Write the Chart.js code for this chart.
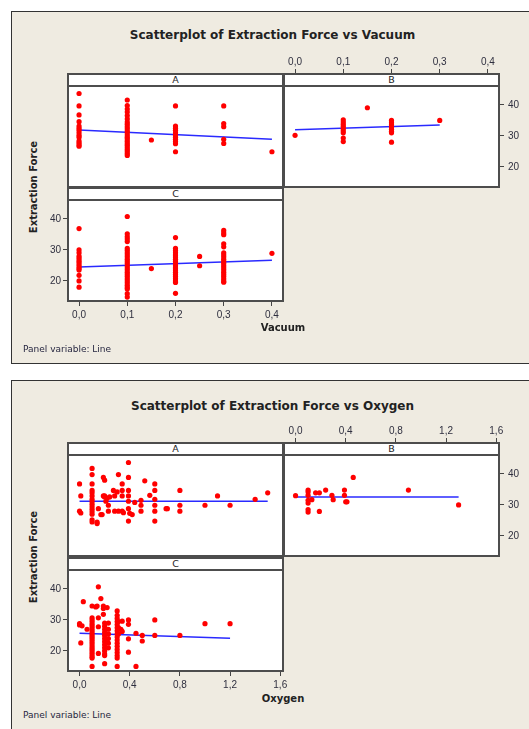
<!DOCTYPE html>
<html>
<head>
<meta charset="utf-8">
<script src="https://cdn.jsdelivr.net/npm/chart.js@4.4.0/dist/chart.umd.min.js"></script>
<style>
  html, body { margin: 0; padding: 0; background: #fff; }
  body { position: relative; width: 529px; height: 729px; overflow: hidden;
         font-family: 'DejaVu Sans', sans-serif; color: #222; }
  .fig { position: absolute; left: 11px; width: 540px; background: #efebe1;
         border: 1.5px solid #333; box-sizing: border-box; z-index: 0; }
  .plotbg { position: absolute; background: #fff; z-index: 1; }
  canvas { position: absolute; z-index: 2; }
  .strip { position: absolute; background: #fff; z-index: 3; box-sizing: border-box;
           border-bottom: 2px solid #4d4d4d; text-align: center; font-size: 9.5px; line-height: 13px; }
  .frame { position: absolute; z-index: 4; box-sizing: border-box; border: 2px solid #4d4d4d; }
  .txt { position: absolute; z-index: 3; white-space: nowrap; }
  .title { font-weight: bold; font-size: 12px; text-align: center; width: 545px; left: 0; }
  .ylab { font-weight: bold; font-size: 10px; transform: translate(-50%, -50%) rotate(-90deg); }
  .xlab { font-weight: bold; font-size: 10px; transform: translate(-50%, -50%); }
  .note { font-size: 9px; color: #262640; }
</style>
</head>
<body>
<div class="fig" style="top:11px; height:353px;"></div>
<div class="fig" style="top:380px; height:360px;"></div>

<div class="txt title" style="top:28px;">Scatterplot of Extraction Force vs Vacuum</div>
<div class="txt ylab" style="left:33px; top:187px;">Extraction Force</div>
<div class="txt xlab" style="left:283px; top:327px;">Vacuum</div>
<div class="txt note" style="left:23px; top:344px;">Panel variable: Line</div>

<div class="txt title" style="top:399px;">Scatterplot of Extraction Force vs Oxygen</div>
<div class="txt ylab" style="left:33px; top:557px;">Extraction Force</div>
<div class="txt xlab" style="left:283px; top:698px;">Oxygen</div>
<div class="txt note" style="left:23px; top:710px;">Panel variable: Line</div>

<script>
// ---- axis ticks ----
const vacTicks = [0, 0.1, 0.2, 0.3, 0.4];
const vacTickLabels = ['0,0', '0,1', '0,2', '0,3', '0,4'];
const oxyTicks = [0, 0.4, 0.8, 1.2, 1.6];
const oxyTickLabels = ['0,0', '0,4', '0,8', '1,2', '1,6'];
const forceTicks = [20, 30, 40];
const forceTickLabels = ['20', '30', '40'];

// ---- Extraction Force vs Vacuum, grouped by vacuum level ----
const vacLevels = [0, 0.1, 0.15, 0.2, 0.25, 0.3, 0.4];
const vacForceA = [
  [43.7, 39.7, 36.8, 34.6, 33.2, 32.5, 31.8, 31, 30.2, 29.6, 28.4, 27.8, 27.2, 26.7],
  [41.6, 39.8, 38.7, 37.7, 36.6, 35.5, 34.5, 33.8, 33, 32.3, 31.6, 31, 30.3, 29.6, 29, 28.3, 27.6, 27, 26.3, 25.6, 25, 24.3, 23.7],
  [28.7],
  [39.7, 33.2, 32.5, 31.8, 31, 30.3, 29.6, 28.9, 28.2, 27.5, 24.9],
  [],
  [39.7, 34, 33, 28.9, 27.6],
  [24.9]
];
const vacForceB = [
  [30.2],
  [35.2, 34.5, 33.8, 33.1, 32.4, 31.7, 31, 29.3, 28.2],
  [39.1],
  [35, 34.3, 33.6, 32.9, 32.2, 31.5, 31, 28],
  [],
  [35],
  []
];
const vacForceC = [
  [36.9, 30, 29.1, 28, 27.3, 26.6, 26, 25.3, 24.6, 24, 23.5, 21.8, 20, 18],
  [40.8, 35.2, 34.3, 33.5, 32.7, 30.5, 29.8, 29.1, 28.4, 27.7, 27, 26.3, 25.6, 24.9, 24.2, 23.5, 22.8, 22.1, 21.4, 20.7, 20, 19.3, 18.6, 17.9, 17.4, 15.9, 14.8],
  [24],
  [34, 30.5, 29.8, 29.1, 28.4, 27.7, 27, 26.3, 25.6, 24.9, 24.2, 23.5, 22.8, 22.1, 21.4, 20.7, 20, 19.5, 16],
  [27.9, 24.9],
  [36.3, 35.5, 34.9, 32, 31, 29.1, 28.4, 27.7, 27, 26.3, 25.6, 24.9, 24.2, 23.5, 22.8, 22.1, 21.4, 20.7, 20, 19.6],
  [28.9]
];
// fitted lines (end points)
const vacFitAx = [0, 0.4],  vacFitAy = [31.9, 28.9];
const vacFitBx = [0, 0.3],  vacFitBy = [32, 33.5];
const vacFitCx = [0, 0.4],  vacFitCy = [24.5, 26.7];

// ---- Extraction Force vs Oxygen ----
const oxyAx = [0, 0.01, 0, 0.01,
  0.1, 0.1, 0.1, 0.1, 0.1, 0.1, 0.1, 0.1, 0.1, 0.1, 0.1, 0.1, 0.1, 0.1, 0.1,
  0.14, 0.14, 0.15, 0.17, 0.18, 0.19, 0.2, 0.2, 0.22, 0.23, 0.23, 0.19, 0.2, 0.21, 0.24,
  0.27, 0.28, 0.3, 0.31, 0.34, 0.34, 0.34, 0.31, 0.34, 0.35, 0.28,
  0.39, 0.39, 0.39, 0.39, 0.39, 0.39, 0.39, 0.4, 0.42,
  0.44, 0.49, 0.49, 0.49, 0.52, 0.56,
  0.6, 0.6, 0.6, 0.6, 0.6, 0.6,
  0.69, 0.7, 0.8, 0.8, 0.8, 1.0, 1.1, 1.2, 1.4, 1.5];
const oxyAy = [36.8, 32.9, 28, 27.4,
  41.8, 39.8, 36.8, 34.7, 33.9, 32.9, 31.8, 31, 30.2, 29.4, 28.6, 27.8, 27, 25.2, 24.5,
  24.5, 24, 28.8, 26.9, 26.9, 32.9, 32.6, 32.9, 32.2, 29.9, 28, 38.9, 38, 31.2, 32.6,
  34.7, 32.9, 34.2, 39.8, 36.8, 34.7, 32.9, 28, 28, 27.5, 28,
  43.7, 38.9, 34.7, 32.9, 31.2, 28.8, 24.8, 27.3, 26.9,
  30.8, 31.5, 29.9, 28, 37.8, 33.1,
  36.8, 34.7, 31.8, 29.9, 28, 24.8,
  28.8, 28.8, 34.7, 29.9, 28, 29.9, 32.9, 29.9, 31.8, 33.9];
const oxyBx = [0, 0.1, 0.1, 0.1, 0.1, 0.1, 0.1, 0.1, 0.13, 0.16, 0.19, 0.19, 0.24,
  0.29, 0.3, 0.39, 0.39, 0.4, 0.41, 0.46, 0.9, 1.3];
const oxyBy = [33, 34.8, 34.2, 33.1, 31.5, 30.6, 28.5, 27.7, 31.7, 33.9, 33.9, 27.9, 34.8,
  33.1, 31.7, 34.8, 33.1, 31, 31, 38.9, 34.8, 30];
const oxyCx = [0, 0, 0.02, 0.01, 0.03, 0.06,
  0.1, 0.1, 0.1, 0.1, 0.1, 0.1, 0.1, 0.1, 0.1, 0.1, 0.1, 0.1, 0.1, 0.1, 0.1, 0.1, 0.1, 0.1, 0.1, 0.1, 0.1, 0.1,
  0.13, 0.14, 0.15, 0.17, 0.19, 0.15, 0.15, 0.15, 0.19, 0.19,
  0.2, 0.2, 0.2, 0.2, 0.2, 0.2, 0.2, 0.2, 0.2, 0.2, 0.2, 0.2, 0.2,
  0.22, 0.23, 0.23, 0.23, 0.23, 0.23, 0.23,
  0.3, 0.3, 0.3, 0.3, 0.3, 0.3, 0.3, 0.3, 0.3, 0.3, 0.3, 0.3, 0.3, 0.3, 0.3, 0.3, 0.3,
  0.31, 0.31, 0.31, 0.34, 0.34, 0.33,
  0.39, 0.39, 0.39, 0.39, 0.45, 0.45, 0.5, 0.5, 0.6, 0.6, 0.8, 1.0, 1.2];
const oxyCy = [28.8, 28.4, 28.1, 22.6, 35.9, 27,
  34.5, 30.7, 30, 29.3, 28.6, 27.9, 27.2, 26.5, 25.8, 25.1, 24.4, 23.7, 23, 22.3, 21.6, 20.9, 20.2, 19.5, 18.8, 18.1, 17.7, 15,
  34.2, 34.5, 40.7, 36.9, 31.8, 30.7, 27.8, 19.2, 34.5, 33.7,
  29, 28, 27, 26, 25, 24, 23, 22, 21, 20, 19, 18.5, 15.9,
  34, 29, 27, 25.5, 24, 22.5, 21,
  32.9, 31.5, 30.5, 29.5, 28.5, 27.5, 26.5, 25.5, 24.5, 23.5, 22.5, 21.5, 20.5, 19.5, 18.5, 17.7, 15,
  29.5, 27.5, 25.5, 29.6, 26.3, 27,
  30, 28.6, 23.9, 19.6, 25.7, 15, 25, 23.2, 30, 25, 25, 28.8, 28.8];
const oxyFitAx = [0, 1.5],  oxyFitAy = [31.2, 31.2];
const oxyFitBx = [0, 1.3],  oxyFitBy = [32.6, 32.6];
const oxyFitCx = [0, 1.2],  oxyFitCy = [25.7, 24.1];

// ---- helpers ----
function pairs(xs, ys) {
  return xs.map((x, i) => ({ x: x, y: ys[i] }));
}
function levelPoints(levels, cols) {
  const pts = [];
  cols.forEach((col, i) => col.forEach((v) => pts.push({ x: levels[i], y: v })));
  return pts;
}

const AXIS = { top: 30, right: 30, left: 24, bottom: 20 };
const STRIP = 14;

function addPanel(p) {
  const mL = p.yPos === 'left' ? AXIS.left : 0;
  const mR = p.yPos === 'right' ? AXIS.right : (p.padRight || 0);
  const mT = p.xPos === 'top' ? AXIS.top : 0;
  const mB = p.xPos === 'bottom' ? AXIS.bottom : 0;

  const bg = document.createElement('div');
  bg.className = 'plotbg';
  Object.assign(bg.style, { left: p.x + 'px', top: p.y + 'px', width: p.w + 'px', height: p.h + 'px' });
  document.body.appendChild(bg);

  const cv = document.createElement('canvas');
  cv.width = p.w + mL + mR;
  cv.height = p.h + mT + mB;
  cv.style.left = (p.x - mL) + 'px';
  cv.style.top = (p.y - mT) + 'px';
  document.body.appendChild(cv);

  const strip = document.createElement('div');
  strip.className = 'strip';
  strip.textContent = p.label;
  Object.assign(strip.style, { left: p.x + 'px', top: (p.y - STRIP) + 'px', width: p.w + 'px', height: STRIP + 'px' });
  document.body.appendChild(strip);

  const frame = document.createElement('div');
  frame.className = 'frame';
  Object.assign(frame.style, { left: p.x + 'px', top: (p.y - STRIP) + 'px', width: p.w + 'px', height: (p.h + STRIP) + 'px' });
  document.body.appendChild(frame);

  new Chart(cv, {
    type: 'scatter',
    data: {
      datasets: [
        {
          data: p.points,
          backgroundColor: '#ff0000',
          pointRadius: 2.6,
          pointBorderWidth: 0,
        },
        {
          data: pairs(p.fitX, p.fitY),
          showLine: true,
          borderColor: '#2a2aff',
          borderWidth: 1.5,
          pointRadius: 0,
        },
      ],
    },
    options: {
      responsive: false,
      animation: false,
      layout: {
        autoPadding: false,
        padding: { left: 0, right: p.yPos === 'right' ? 0 : mR, top: 0, bottom: 0 },
      },
      plugins: { legend: { display: false }, tooltip: { enabled: false } },
      scales: {
        x: {
          type: 'linear',
          min: p.xMin,
          max: p.xMax,
          display: !!p.xPos,
          position: p.xPos || 'bottom',
          afterBuildTicks: (s) => { s.ticks = p.xTicks.map((v) => ({ value: v })); },
          afterFit: (s) => {
            s.paddingLeft = 0;
            s.paddingRight = 0;
            if (p.xPos) s.height = p.xPos === 'top' ? AXIS.top : AXIS.bottom;
          },
          grid: { drawOnChartArea: false, tickLength: p.xPos === 'top' ? STRIP + 4 : 4, tickColor: '#444', tickWidth: 1 },
          border: { display: false },
          ticks: {
            padding: p.xPos === 'top' ? 1 : 3,
            color: '#2f2f3f',
            font: { size: 10 },
            maxRotation: 0,
            autoSkip: false,
            callback: (v, i) => p.xLabels[i],
          },
        },
        y: {
          type: 'linear',
          min: 13.2,
          max: 45.8,
          display: !!p.yPos,
          position: p.yPos || 'left',
          afterBuildTicks: (s) => { s.ticks = forceTicks.map((v) => ({ value: v })); },
          afterFit: (s) => {
            s.paddingTop = 0;
            s.paddingBottom = 0;
            if (p.yPos) s.width = p.yPos === 'right' ? AXIS.right : AXIS.left;
          },
          grid: { drawOnChartArea: false, tickLength: 4, tickColor: '#444', tickWidth: 1 },
          border: { display: false },
          ticks: {
            padding: p.yPos === 'right' ? 4 : 2,
            color: '#2f2f3f',
            font: { size: 10 },
            autoSkip: false,
            callback: (v, i) => forceTickLabels[i],
          },
        },
      },
    },
  });
}

const W = 217, H = 101;
const vacScale = { xMin: -0.025, xMax: 0.425, xTicks: vacTicks, xLabels: vacTickLabels };
const oxyScale = { xMin: -0.1, xMax: 1.63, xTicks: oxyTicks, xLabels: oxyTickLabels };

// Vacuum figure
addPanel(Object.assign({ x: 67, y: 87, w: W, h: H, label: 'A', xPos: null, yPos: null,
  points: levelPoints(vacLevels, vacForceA), fitX: vacFitAx, fitY: vacFitAy }, vacScale));
addPanel(Object.assign({ x: 283, y: 87, w: W, h: H, label: 'B', xPos: 'top', yPos: 'right',
  points: levelPoints(vacLevels, vacForceB), fitX: vacFitBx, fitY: vacFitBy }, vacScale));
addPanel(Object.assign({ x: 67, y: 201, w: W, h: H, label: 'C', xPos: 'bottom', yPos: 'left', padRight: 10,
  points: levelPoints(vacLevels, vacForceC), fitX: vacFitCx, fitY: vacFitCy }, vacScale));

// Oxygen figure
addPanel(Object.assign({ x: 67, y: 456, w: W, h: H, label: 'A', xPos: null, yPos: null,
  points: pairs(oxyAx, oxyAy), fitX: oxyFitAx, fitY: oxyFitAy }, oxyScale));
addPanel(Object.assign({ x: 283, y: 456, w: W, h: H, label: 'B', xPos: 'top', yPos: 'right',
  points: pairs(oxyBx, oxyBy), fitX: oxyFitBx, fitY: oxyFitBy }, oxyScale));
addPanel(Object.assign({ x: 67, y: 571, w: W, h: H, label: 'C', xPos: 'bottom', yPos: 'left', padRight: 10,
  points: pairs(oxyCx, oxyCy), fitX: oxyFitCx, fitY: oxyFitCy }, oxyScale));
</script>
</body>
</html>
